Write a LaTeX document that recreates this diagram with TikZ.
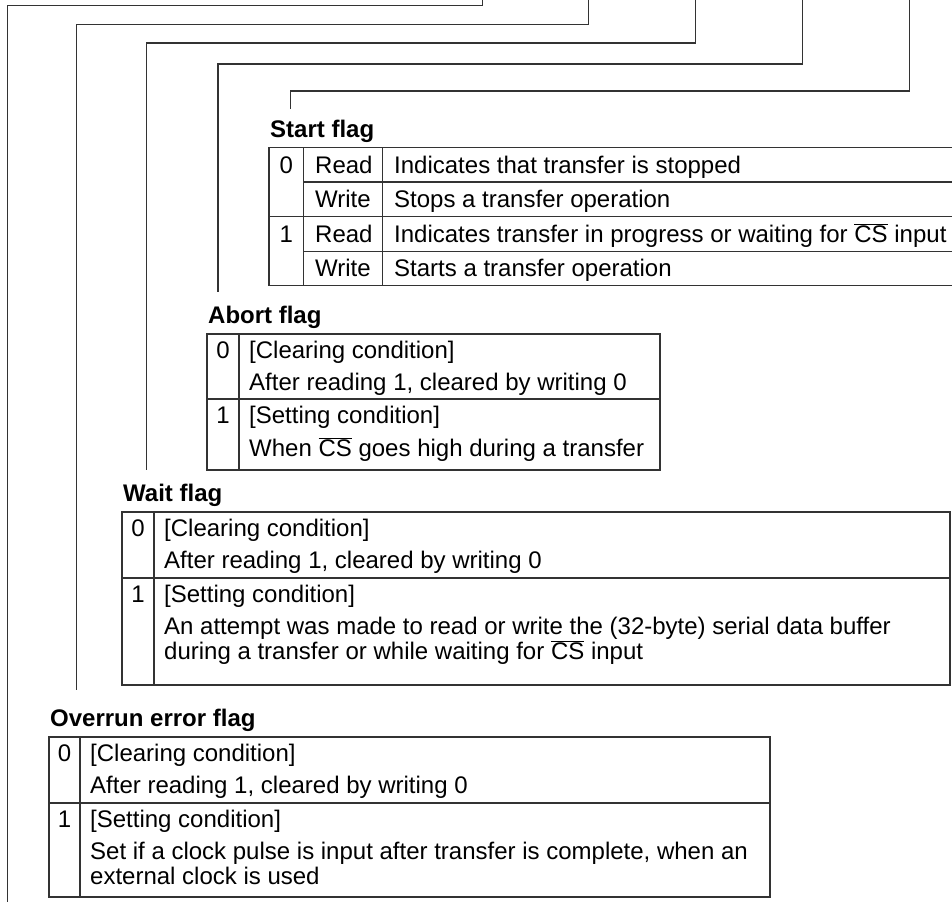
\documentclass[tikz,border=0pt]{standalone}
\usepackage{fontspec}
\setmainfont{Liberation Sans}
\newcommand\ovl[1]{$\overline{\mbox{#1}}$}
\begin{document}
\begin{tikzpicture}[x=1pt,y=-1pt,
  lead/.style={line width=1.2pt, draw=black!80},
  grid/.style={line width=1.2pt, draw=black!80},
  txt/.style={anchor=base west, inner sep=0pt, font=\fontsize{24}{28}\selectfont},
  num/.style={anchor=base, inner sep=0pt, font=\fontsize{24}{28}\selectfont},
  ttl/.style={anchor=base west, inner sep=0pt, font=\fontsize{24}{28}\selectfont\bfseries}]
\useasboundingbox (0,0) rectangle (952,902);
% leader lines
\coordinate (a1) at (482.5,0);   \coordinate (b1) at (482.5,5.3);  \coordinate (c1) at (7.3,5.3);   \coordinate (d1) at (7.3,902);
\coordinate (a2) at (588.7,0);   \coordinate (b2) at (588.7,24.3); \coordinate (c2) at (76.7,24.3);  \coordinate (d2) at (76.7,690);
\coordinate (a3) at (695.7,0);   \coordinate (b3) at (695.7,43);   \coordinate (c3) at (146.3,43);   \coordinate (d3) at (146.3,470);
\coordinate (a4) at (802.6,0);   \coordinate (b4) at (802.6,64);   \coordinate (c4) at (218,64);     \coordinate (d4) at (218,292);
\coordinate (a5) at (909.3,0);   \coordinate (b5) at (909.3,91);   \coordinate (c5) at (290.3,91);   \coordinate (d5) at (290.3,109);
\foreach \i in {1,...,5}{\draw[lead] (a\i) -- (b\i) -- (c\i) -- (d\i);}

% Start flag
\node[ttl] (st) at (270,137) {Start flag};
\draw[grid] (952,147.5) -- (269,147.5) -- (269,285.7) -- (952,285.7);
\draw[grid] (269,216.7) -- (952,216.7);
\draw[grid] (303.3,182) -- (952,182);
\draw[grid] (303.3,251.3) -- (952,251.3);
\draw[grid] (303.3,147.5) -- (303.3,285.7);
\draw[grid] (382.7,147.5) -- (382.7,285.7);
\node[num] (s0) at (286.2,173) {0};
\node[num] (s1) at (286.2,242) {1};
\node[txt] (sr1) at (315,173) {Read};
\node[txt] (sw1) at (315,207.5) {Write};
\node[txt] (sr2) at (315,242) {Read};
\node[txt] (sw2) at (315,276.5) {Write};
\node[txt] (sd1) at (394,173) {Indicates that transfer is stopped};
\node[txt] (sd2) at (394,207.5) {Stops a transfer operation};
\node[txt] (sd3) at (394,242) {Indicates transfer in progress or waiting for \ovl{CS} input};
\node[txt] (sd4) at (394,276.5) {Starts a transfer operation};

% Abort flag
\node[ttl] (ab) at (208,323.5) {Abort flag};
\draw[grid] (207,334) rectangle (660,470);
\draw[grid] (207,399) -- (660,399);
\draw[grid] (239,334) -- (239,470);
\node[num] (a0) at (223,358) {0};
\node[num] (a1n) at (223,423) {1};
\node[txt] (at1) at (249,358) {[Clearing condition]};
\node[txt] (at2) at (249,390) {After reading 1, cleared by writing 0};
\node[txt] (at3) at (249,423) {[Setting condition]};
\node[txt] (at4) at (249,456) {When \ovl{CS} goes high during a transfer};

% Wait flag
\node[ttl] (wt) at (123,501.5) {Wait flag};
\draw[grid] (122,512) rectangle (950,685);
\draw[grid] (122,578) -- (950,578);
\draw[grid] (154,512) -- (154,685);
\node[num] (w0) at (138,536) {0};
\node[num] (w1) at (138,602) {1};
\node[txt] (wt1) at (164,536) {[Clearing condition]};
\node[txt] (wt2) at (164,568) {After reading 1, cleared by writing 0};
\node[txt] (wt3) at (164,602) {[Setting condition]};
\node[txt] (wt4) at (164,634) {An attempt was made to read or write the (32-byte) serial data buffer};
\node[txt] (wt5) at (164,659) {during a transfer or while waiting for \ovl{CS} input};

% Overrun error flag
\node[ttl] (ov) at (50,726.5) {Overrun error flag};
\draw[grid] (49,737) rectangle (770,897);
\draw[grid] (49,803) -- (770,803);
\draw[grid] (80,737) -- (80,897);
\node[num] (o0) at (64.5,761) {0};
\node[num] (o1) at (64.5,827) {1};
\node[txt] (ot1) at (90,761) {[Clearing condition]};
\node[txt] (ot2) at (90,793) {After reading 1, cleared by writing 0};
\node[txt] (ot3) at (90,827) {[Setting condition]};
\node[txt] (ot4) at (90,859) {Set if a clock pulse is input after transfer is complete, when an};
\node[txt] (ot5) at (90,884) {external clock is used};
\end{tikzpicture}
\end{document}
